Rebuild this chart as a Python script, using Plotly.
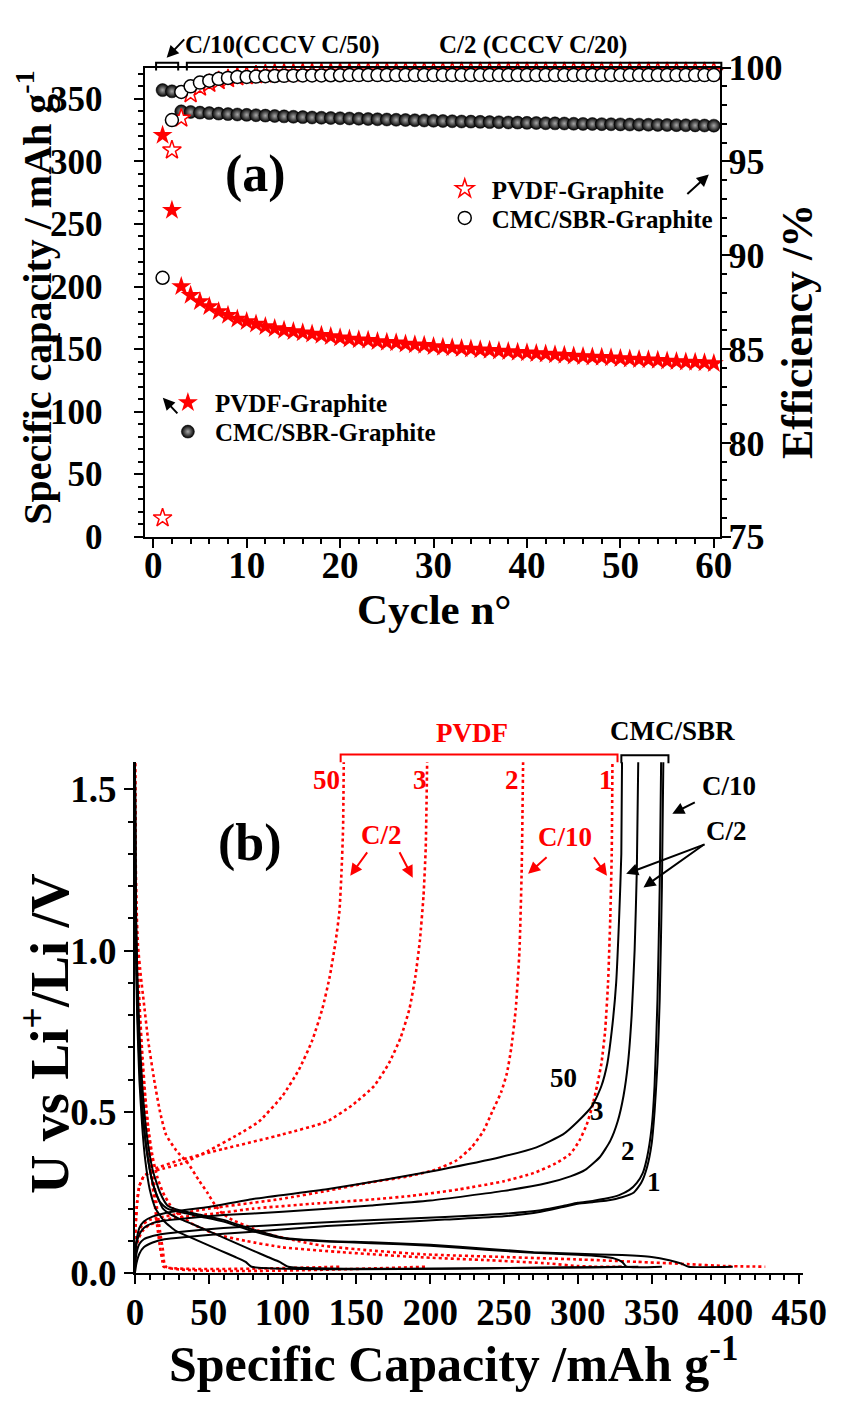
import plotly.graph_objects as go

W, H = 853, 1401
def px(x): return x / W
def py(y): return 1 - y / H

FONT = "Liberation Serif, Times New Roman, Times, serif"
RED = "#ff0000"

# ---------------- Panel (a) data ----------------
cycles = list(range(1, 61))
pvdf_capacity = [321, 261, 200, 193, 188, 184, 180, 177, 174, 172,
                 170, 168, 166.5, 165, 164, 163, 162, 161, 160, 159,
                 158, 157.5, 157, 156, 155.5, 155, 154, 153.5, 153, 152,
                 151.5, 151, 150.5, 150, 149.5, 149, 148.5, 148, 147.5, 147,
                 146.5, 146, 145.5, 145, 144.5, 144, 143.7, 143.4, 143, 142.5,
                 142, 141.7, 141.4, 141, 140.5, 140, 139.7, 139.4, 139, 138.5]
cmc_capacity = [357, 356, 340, 339.5, 339, 338.6, 338.2, 337.8, 337.5, 337.2,
                336.9, 336.6, 336.3, 336, 335.7, 335.4, 335.1, 334.9, 334.7, 334.5,
                334.3, 334.1, 333.9, 333.7, 333.5, 333.3, 333.1, 332.9, 332.7, 332.5,
                332.3, 332.1, 331.9, 331.8, 331.6, 331.4, 331.3, 331.1, 331, 330.8,
                330.7, 330.5, 330.4, 330.3, 330.1, 330, 329.9, 329.8, 329.7, 329.6,
                329.5, 329.4, 329.3, 329.2, 329.1, 329, 328.9, 328.8, 328.7, 328.6]
pvdf_eff = [76.0, 95.6, 97.3, 98.6, 98.95, 99.15, 99.3, 99.4, 99.5, 99.55,
            99.6, 99.65, 99.7, 99.7, 99.7, 99.72, 99.72, 99.72, 99.74, 99.74,
            99.74, 99.75, 99.75, 99.75, 99.75, 99.75, 99.76, 99.76, 99.76, 99.76,
            99.76, 99.77, 99.77, 99.77, 99.77, 99.77, 99.77, 99.78, 99.78, 99.78,
            99.78, 99.78, 99.78, 99.78, 99.78, 99.78, 99.78, 99.78, 99.78, 99.78,
            99.78, 99.78, 99.78, 99.78, 99.78, 99.78, 99.78, 99.78, 99.78, 99.78]
cmc_eff = [88.8, 97.2, 98.7, 99.0, 99.2, 99.3, 99.4, 99.45, 99.5, 99.5,
           99.52, 99.54, 99.55, 99.56, 99.57, 99.58, 99.58, 99.58, 99.59, 99.59,
           99.6, 99.6, 99.6, 99.6, 99.6, 99.6, 99.6, 99.6, 99.6, 99.6,
           99.6, 99.6, 99.6, 99.6, 99.6, 99.6, 99.6, 99.6, 99.6, 99.6,
           99.6, 99.6, 99.6, 99.6, 99.6, 99.6, 99.6, 99.6, 99.6, 99.6,
           99.6, 99.6, 99.6, 99.6, 99.6, 99.6, 99.6, 99.6, 99.6, 99.6]

# ---------------- Panel (b) data: CMC/SBR (black) ----------------
cmc_ch1_q = [0, 1, 3, 6, 12, 20, 35, 60, 90, 130, 170, 210, 250, 275, 290, 300, 310, 320, 330, 338, 343, 347, 350, 352, 354, 355.5, 357, 358]
cmc_ch1_v = [0.0, 0.03, 0.06, 0.08, 0.095, 0.105, 0.112, 0.122, 0.132, 0.146, 0.156, 0.166, 0.176, 0.19, 0.205, 0.215, 0.22, 0.225, 0.235, 0.25, 0.28, 0.33, 0.4, 0.5, 0.65, 0.85, 1.2, 1.6]
cmc_ch2_q = [0, 1, 3, 6, 12, 20, 35, 60, 90, 130, 170, 210, 250, 275, 290, 300, 310, 320, 328, 335, 340, 344, 347, 350, 352, 354, 355.5, 356.5]
cmc_ch2_v = [0.02, 0.06, 0.09, 0.105, 0.115, 0.122, 0.13, 0.14, 0.148, 0.158, 0.166, 0.174, 0.184, 0.195, 0.208, 0.218, 0.224, 0.232, 0.242, 0.258, 0.28, 0.31, 0.36, 0.45, 0.58, 0.85, 1.2, 1.6]
cmc_ch3_q = [0, 1, 3, 6, 12, 20, 35, 60, 100, 160, 200, 250, 280, 295, 305, 315, 322, 327, 331, 334, 336.5, 338.5, 340, 341]
cmc_ch3_v = [0.05, 0.09, 0.12, 0.14, 0.155, 0.163, 0.17, 0.18, 0.19, 0.21, 0.225, 0.255, 0.28, 0.3, 0.32, 0.36, 0.41, 0.47, 0.55, 0.65, 0.8, 1.0, 1.25, 1.6]
cmc_ch50_q = [0, 1, 3, 6, 12, 25, 50, 80, 130, 170, 206, 248, 272, 290, 300, 310, 316, 320, 323, 326, 328, 329.5, 330]
cmc_ch50_v = [0.06, 0.1, 0.14, 0.16, 0.175, 0.19, 0.205, 0.23, 0.26, 0.29, 0.32, 0.36, 0.39, 0.43, 0.47, 0.52, 0.58, 0.65, 0.75, 0.9, 1.1, 1.3, 1.6]
cmc_dis1_q = [0, 0.5, 1.5, 3, 5, 8, 12, 17, 22, 30, 45, 60, 80, 100, 130, 160, 200, 240, 270, 300, 330, 350, 362, 370, 375, 405]
cmc_dis1_v = [1.6, 1.2, 0.95, 0.75, 0.58, 0.43, 0.32, 0.25, 0.21, 0.195, 0.18, 0.165, 0.135, 0.11, 0.1, 0.096, 0.088, 0.075, 0.065, 0.06, 0.056, 0.05, 0.04, 0.03, 0.02, 0.02]
cmc_dis2_q = [0, 0.5, 1.5, 3, 5, 8, 12, 17, 22, 30, 45, 60, 80, 100, 130, 160, 200, 240, 270, 300, 315, 325, 330, 333, 357]
cmc_dis2_v = [1.6, 1.15, 0.9, 0.7, 0.52, 0.38, 0.28, 0.22, 0.2, 0.19, 0.175, 0.16, 0.13, 0.108, 0.098, 0.093, 0.085, 0.072, 0.063, 0.057, 0.052, 0.045, 0.035, 0.02, 0.02]
cmc_dis3_q = [0, 0.5, 1.5, 3, 5, 8, 11, 14, 19, 25, 32, 40, 50, 60, 70, 80, 90, 98, 104, 341]
cmc_dis3_v = [1.6, 1.1, 0.85, 0.65, 0.5, 0.38, 0.3, 0.25, 0.2, 0.18, 0.165, 0.15, 0.13, 0.11, 0.09, 0.07, 0.05, 0.035, 0.02, 0.02]
cmc_dis50_q = [0, 0.5, 1.5, 3, 5, 7, 10, 14, 20, 28, 38, 48, 58, 68, 75, 79, 330]
cmc_dis50_v = [1.6, 1.05, 0.8, 0.6, 0.45, 0.35, 0.26, 0.2, 0.16, 0.13, 0.11, 0.09, 0.07, 0.05, 0.035, 0.02, 0.02]

# ---------------- Panel (b) data: PVDF (red dotted) ----------------
pvdf_ch1_q = [0, 0.5, 2, 5, 10, 25, 55, 80, 120, 160, 188, 220, 250, 270, 285, 295, 301, 306, 310, 313, 316, 318.5, 320.5, 322, 323, 323.5]
pvdf_ch1_v = [0.02, 0.06, 0.1, 0.13, 0.15, 0.17, 0.185, 0.2, 0.215, 0.228, 0.24, 0.26, 0.285, 0.31, 0.34, 0.37, 0.41, 0.46, 0.52, 0.58, 0.65, 0.75, 0.9, 1.1, 1.3, 1.6]
pvdf_ch2_q = [0, 0.5, 2, 5, 10, 25, 50, 99, 130, 158, 185, 203, 218, 228, 236, 242, 248, 252, 255, 258, 260.5, 262, 263]
pvdf_ch2_v = [0.03, 0.08, 0.12, 0.15, 0.165, 0.18, 0.2, 0.23, 0.255, 0.28, 0.3, 0.32, 0.35, 0.39, 0.44, 0.5, 0.56, 0.62, 0.7, 0.82, 1.0, 1.25, 1.6]
pvdf_ch3_q = [0, 0.5, 1.5, 3, 6, 12, 30, 60, 100, 130, 147, 162, 172, 180, 186, 190, 193, 195.5, 197, 198]
pvdf_ch3_v = [0.05, 0.15, 0.22, 0.27, 0.3, 0.32, 0.35, 0.385, 0.43, 0.47, 0.52, 0.58, 0.65, 0.73, 0.82, 0.92, 1.03, 1.17, 1.32, 1.6]
pvdf_ch50_q = [0, 0.5, 1.5, 3, 6, 12, 20, 32, 50, 70, 84, 100, 111, 120, 127, 132, 136, 138.5, 140, 141, 141.5]
pvdf_ch50_v = [0.05, 0.15, 0.22, 0.27, 0.3, 0.315, 0.325, 0.34, 0.38, 0.43, 0.47, 0.55, 0.63, 0.72, 0.82, 0.92, 1.03, 1.12, 1.25, 1.38, 1.6]
pvdf_dis1_q = [0, 0.3, 1, 2, 4, 6, 9, 13, 17, 21, 28, 36, 43, 49, 53, 58, 66, 79, 91, 110, 127, 160, 197, 250, 303, 340, 374, 400, 427]
pvdf_dis1_v = [1.6, 1.35, 1.15, 1.02, 0.92, 0.84, 0.72, 0.6, 0.5, 0.43, 0.38, 0.34, 0.29, 0.25, 0.22, 0.19, 0.165, 0.14, 0.12, 0.1, 0.085, 0.07, 0.058, 0.05, 0.042, 0.035, 0.028, 0.022, 0.02]
pvdf_dis2_q = [0, 0.3, 1, 2, 4, 6, 9, 12, 15, 19, 24, 30, 40, 55, 75, 100, 140, 190, 240, 280, 300, 310, 330]
pvdf_dis2_v = [1.6, 1.25, 1.0, 0.85, 0.7, 0.58, 0.45, 0.36, 0.3, 0.25, 0.21, 0.18, 0.15, 0.12, 0.1, 0.08, 0.065, 0.05, 0.04, 0.03, 0.022, 0.02, 0.02]
pvdf_dis3_q = [0, 0.3, 1, 2, 3.5, 5, 7, 9, 11, 13, 15, 17, 19, 21, 198]
pvdf_dis3_v = [1.6, 1.3, 1.1, 0.95, 0.8, 0.68, 0.55, 0.45, 0.36, 0.28, 0.2, 0.13, 0.07, 0.02, 0.02]
pvdf_dis50_q = [0, 0.3, 1, 2, 3.5, 5, 7, 9, 11, 13, 15, 17, 18.5, 19.5, 140]
pvdf_dis50_v = [1.6, 1.25, 1.05, 0.9, 0.75, 0.62, 0.5, 0.4, 0.31, 0.23, 0.15, 0.08, 0.04, 0.02, 0.02]

fig = go.Figure()

# ---- Panel (a) traces ----
fig.add_trace(go.Scatter(x=cycles, y=pvdf_eff, mode="markers", name="PVDF-Graphite",
                         xaxis="x", yaxis="y2", legend="legend", cliponaxis=False,
                         marker=dict(symbol="star", size=14, color="white", line=dict(color=RED, width=1.5))))
fig.add_trace(go.Scatter(x=cycles, y=cmc_eff, mode="markers", name="CMC/SBR-Graphite",
                         xaxis="x", yaxis="y2", legend="legend2", cliponaxis=False,
                         marker=dict(symbol="circle", size=13, color="white", line=dict(color="black", width=1.5))))
fig.add_trace(go.Scatter(x=cycles, y=pvdf_capacity, mode="markers", name="PVDF-Graphite",
                         xaxis="x", yaxis="y", legend="legend3", cliponaxis=False,
                         marker=dict(symbol="star", size=15, color=RED, line=dict(width=0))))
fig.add_trace(go.Scatter(x=cycles, y=cmc_capacity, mode="markers", name="CMC/SBR-Graphite",
                         xaxis="x", yaxis="y", legend="legend4", cliponaxis=False,
                         marker=dict(symbol="circle", size=13, color="black",
                                     gradient=dict(type="radial", color="#a8a8a8"),
                                     line=dict(width=0.5, color="black"))))

# ---- Panel (b) traces ----
def add_curve(q, v, color, dotted):
    fig.add_trace(go.Scatter(x=q, y=v, mode="lines", xaxis="x2", yaxis="y3", showlegend=False,
                             line=dict(color=color, width=2.6 if dotted else 2.0,
                                       dash="dot" if dotted else "solid",
                                       shape="spline", smoothing=0.5)))

for q, v in [(pvdf_dis1_q, pvdf_dis1_v), (pvdf_dis2_q, pvdf_dis2_v), (pvdf_dis3_q, pvdf_dis3_v),
             (pvdf_dis50_q, pvdf_dis50_v), (pvdf_ch1_q, pvdf_ch1_v), (pvdf_ch2_q, pvdf_ch2_v),
             (pvdf_ch3_q, pvdf_ch3_v), (pvdf_ch50_q, pvdf_ch50_v)]:
    add_curve(q, v, RED, True)
for q, v in [(cmc_dis1_q, cmc_dis1_v), (cmc_dis2_q, cmc_dis2_v), (cmc_dis3_q, cmc_dis3_v),
             (cmc_dis50_q, cmc_dis50_v), (cmc_ch1_q, cmc_ch1_v), (cmc_ch2_q, cmc_ch2_v),
             (cmc_ch3_q, cmc_ch3_v), (cmc_ch50_q, cmc_ch50_v)]:
    add_curve(q, v, "black", False)

TICKF = dict(family=FONT, size=37, color="black", weight="bold")
MINOR = dict(ticks="outside", ticklen=5, tickwidth=2, tickcolor="black")
def axis_common(**kw):
    d = dict(showgrid=False, zeroline=False, showline=True, linewidth=2, linecolor="black",
             ticks="outside", ticklen=9, tickwidth=2, tickcolor="black", tickfont=TICKF)
    d.update(kw)
    return d

LEGF = dict(family=FONT, size=25, color="black", weight="bold")
def leg(x, y):
    return dict(x=px(x), y=py(y), xanchor="left", yanchor="middle", bgcolor="rgba(0,0,0,0)",
                font=LEGF, itemsizing="trace", itemwidth=44, borderwidth=0)

layout = dict(
    width=W, height=H, margin=dict(l=0, r=0, t=0, b=0),
    paper_bgcolor="white", plot_bgcolor="white",
    font=dict(family=FONT, color="black"),
    xaxis=axis_common(domain=[px(141), px(740)], range=[-0.93, 60.7], anchor="y", mirror=True,
                      tick0=0, dtick=10, ticklabelstandoff=-14,
                      minor=dict(dtick=2, tick0=0, **MINOR)),
    yaxis=axis_common(domain=[py(533), py(50)], range=[0, 375], anchor="x", tick0=0, dtick=50,
                      ticklabelstandoff=24, tickfont=dict(TICKF, size=35),
                      minor=dict(dtick=10, tick0=0, **MINOR)),
    yaxis2=axis_common(overlaying="y", side="right", anchor="x", range=[75, 100], tick0=75, dtick=5,
                       ticklabelstandoff=-10, tickfont=dict(TICKF, size=36),
                       minor=dict(dtick=1, tick0=75, **MINOR)),
    xaxis2=axis_common(domain=[px(131), px(826)], range=[0, 452.6], anchor="y3", tick0=0, dtick=50,
                       ticklabelstandoff=-4, minor=dict(dtick=10, tick0=0, **MINOR)),
    yaxis3=axis_common(domain=[py(1291), py(765)], range=[0, 1.584], anchor="x2", tick0=0, dtick=0.5,
                       tickformat=".1f", minor=dict(dtick=0.1, tick0=0, **MINOR)),
    legend=leg(446, 175),
    legend2=leg(446, 205),
    legend3=leg(158, 395),
    legend4=leg(158, 425),
)
fig.update_layout(**layout)

ann = []
def text(x, y, s, size, color="black", angle=0):
    ann.append(dict(x=px(x), y=py(y), xref="paper", yref="paper", text=s, showarrow=False,
                    textangle=angle, xanchor="center", yanchor="middle",
                    font=dict(family=FONT, size=size, color=color, weight="bold")))
def arrow(tipx, tipy, tailx, taily, color="black"):
    ann.append(dict(x=px(tipx), y=py(tipy), xref="paper", yref="paper", text="", showarrow=True,
                    ax=tailx - tipx, ay=taily - tipy, axref="pixel", ayref="pixel",
                    arrowhead=2, arrowsize=1.2, arrowwidth=2, arrowcolor=color))

# Axis titles
text(27, 287, "Specific capacity / mAh g<sup>-1</sup>", 40, angle=-90)
text(821, 322, "Efficiency /%", 44, angle=-90)
text(443, 608, "Cycle n°", 43)
text(38, 1045, "U vs Li<sup>+</sup>/Li /V", 54, angle=-90)
text(462, 1381, "Specific Capacity /mAh g<sup>-1</sup>", 50)

# Panel (a) annotations
text(256, 160, "(a)", 52)
text(285, 27, "C/10(CCCV C/50)", 25)
text(545, 27, "C/2 (CCCV C/20)", 25)
arrow(164, 40, 183, 20)
arrow(728, 160, 705, 181)
arrow(160, 390, 176, 407)

# Panel (b) annotations
text(251, 848, "(b)", 52)
text(482, 735, "PVDF", 27, RED)
text(690, 733, "CMC/SBR", 27)
text(330, 783, "50", 27, RED)
text(428, 783, "3", 27, RED)
text(523, 783, "2", 27, RED)
text(621, 783, "1", 27, RED)
text(388, 840, "C/2", 27, RED)
text(578, 842, "C/10", 27, RED)
text(749, 790, "C/10", 27)
text(746, 836, "C/2", 27)
text(577, 1090, "50", 27)
text(612, 1124, "3", 27)
text(644, 1165, "2", 27)
text(671, 1197, "1", 27)
arrow(355, 882, 373, 857, RED)
arrow(420, 884, 406, 857, RED)
arrow(540, 880, 560, 862, RED)
arrow(622, 882, 608, 862, RED)
arrow(690, 818, 714, 806)
arrow(642, 880, 722, 850)
arrow(660, 894, 722, 850)
fig.update_layout(annotations=ann)

# Brackets (paper coordinates)
shapes = []
def bracket(x0, x1, y, drop, color):
    shapes.append(dict(type="path", xref="paper", yref="paper",
                       path=f"M {px(x0)} {py(y + drop)} L {px(x0)} {py(y)} L {px(x1)} {py(y)} L {px(x1)} {py(y + drop)}",
                       line=dict(color=color, width=2)))
bracket(153, 176, 45, 8, "black")
bracket(185, 741, 45, 8, "black")
bracket(345, 633, 757, 8, RED)
bracket(637, 686, 758, 8, "black")
fig.update_layout(shapes=shapes)

fig.write_html("out.html")
